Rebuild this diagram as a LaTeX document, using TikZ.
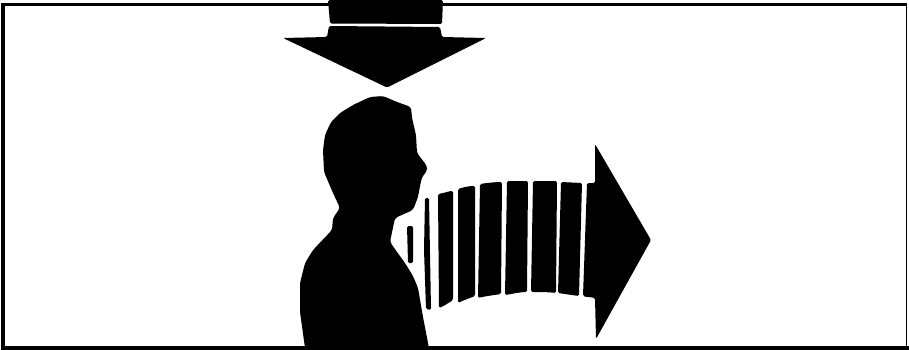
\documentclass[tikz,border=0pt]{standalone}
\begin{document}
\begin{tikzpicture}[x=1pt,y=-1pt,
  ink/.style={fill=black,draw=none},
  rbar/.style={ink,rounded corners=1.5pt},
  framing/.style={fill=black,draw=none}]
\useasboundingbox (0,0) rectangle (909,350);
\fill[white] (0,0) rectangle (909,350);
% frame: heavier on three sides, thin on the right
\path[framing] (1,3) rectangle (907,6.5);
\path[framing] (1,3) rectangle (5,350);
\path[framing] (1,346) rectangle (909,350);
\path[framing] (905.5,3) rectangle (907,350);
% down arrow
\path[rbar] (328,0) -- (443,0) -- (442,24) -- (330,23.5) -- cycle;
\path[rbar] (329,26) -- (440,27) -- (442,37) -- (486,38) -- (387,87.5) -- (283,38) -- (327,37) -- cycle;
% person
\path[ink,rounded corners=3pt] (383,96) -- (397,102) -- (411,107)
  -- (412,118) -- (416,135) -- (417,153) -- (427,166) -- (427,171) -- (422,177)
  -- (420,186) -- (418,197) -- (413,210) -- (395,218) -- (390,242) -- (397,252) -- (405,263)
  -- (413,276) -- (418,288) -- (423,317) -- (429,348) -- (305,348) -- (300,312) -- (300,283)
  -- (305,263) -- (313,250) -- (332,230) -- (333,218) -- (340,208) -- (333,193) -- (324,172)
  -- (323,150) -- (325,135) -- (331,122) -- (340,113) -- (353,105) -- (370,97) -- cycle;
% speech bars
\path[rbar] (407,226) -- (413,226) -- (413,263) -- (408,263) -- cycle;
\path[rbar] (425,198) -- (429,198) -- (431,310) -- (426,309) -- (424,250) -- cycle;
\path[rbar] (438,194) .. controls (444,193) and (450,191) .. (453,191) -- (453,300) .. controls (450,302) and (444,306) .. (439,308) -- cycle;
\path[rbar] (458,189) .. controls (464,187) and (470,186) .. (475,186) -- (475,296) .. controls (470,298) and (464,300) .. (458,303) -- cycle;
\path[rbar] (480,184) .. controls (486,183) and (496,182) .. (502,182) -- (501,294) .. controls (495,295) and (486,296) .. (478,298) -- cycle;
\path[rbar] (507,181) -- (528,181) -- (527,292) .. controls (520,292) and (512,294) .. (505,295) -- cycle;
\path[rbar] (533,181) -- (557,181) -- (556,293) .. controls (548,292) and (540,292) .. (531,292) -- cycle;
\path[rbar] (561,182) -- (582,183) -- (579,296) .. controls (572,295) and (565,294) .. (558,293) -- cycle;
% right arrow
\path[rbar] (587,183) -- (595,183) -- (595,144) -- (651,240) -- (596,339) -- (595,298) .. controls (590,297) and (586,297) .. (583,296) -- cycle;
\end{tikzpicture}
\end{document}
